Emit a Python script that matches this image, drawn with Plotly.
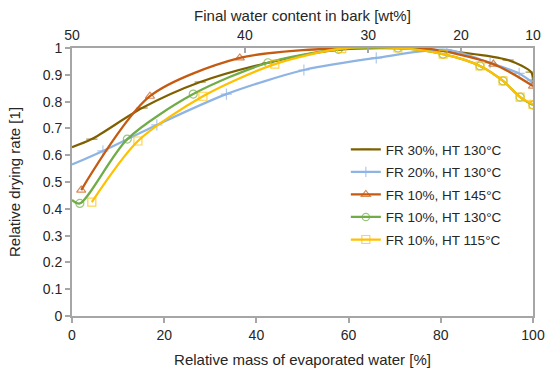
import plotly.graph_objects as go

# Bottom axis: relative mass of evaporated water [%]
fr30_ht130_x = [0, 4.3, 15.2, 27.8, 42.5, 57.5, 76, 94.6, 99.6, 100]
fr30_ht130_y = [0.63, 0.66, 0.776, 0.873, 0.945, 0.993, 0.996, 0.955, 0.91, 0.88]

fr20_ht130_x = [0, 6.7, 18.4, 33.5, 50.3, 66, 81.3, 90.7, 97, 100]
fr20_ht130_y = [0.565, 0.616, 0.713, 0.828, 0.918, 0.963, 0.993, 0.944, 0.905, 0.87]

fr10_ht145_x = [2, 16.9, 36.4, 56, 76, 91.4, 100]
fr10_ht145_y = [0.47, 0.82, 0.963, 0.998, 1.0, 0.94, 0.858]

fr10_ht130_x = [0, 1.7, 12, 26.3, 42.5, 57.8, 70.7, 80.5, 88.5, 93.5, 97.2, 100]
fr10_ht130_y = [0.433, 0.42, 0.66, 0.828, 0.945, 0.995, 1.0, 0.977, 0.933, 0.877, 0.817, 0.787]

fr10_ht115_x = [4.3, 14.3, 28.4, 44, 58.5, 70.7, 80.5, 88.5, 93.5, 97.2, 100]
fr10_ht115_y = [0.425, 0.653, 0.82, 0.94, 0.998, 1.0, 0.977, 0.933, 0.877, 0.817, 0.79]

series_names = ["FR 30%, HT 130°C", "FR 20%, HT 130°C", "FR 10%, HT 145°C",
                "FR 10%, HT 130°C", "FR 10%, HT 115°C"]

# Top axis: final water content in bark [wt%]
top_tick_labels = [50, 40, 30, 20, 10]
w0, wend = 50.0, 10.0


def evaporated_pct(w):
    water = w / (100 - w)
    water0 = w0 / (100 - w0)
    water_end = wend / (100 - wend)
    return (water0 - water) / (water0 - water_end) * 100


top_tick_pos = [evaporated_pct(w) for w in top_tick_labels]

colors = ["#7F6000", "#8EB4E3", "#C55A11", "#70AD47", "#FFC000"]
symbols = ["line-ew", "cross-thin", "triangle-up-open", "circle-open", "square-open"]
xs = [fr30_ht130_x, fr20_ht130_x, fr10_ht145_x, fr10_ht130_x, fr10_ht115_x]
ys = [fr30_ht130_y, fr20_ht130_y, fr10_ht145_y, fr10_ht130_y, fr10_ht115_y]

fig = go.Figure()
for i, (name, x, y, c, s) in enumerate(zip(series_names, xs, ys, colors, symbols)):
    # no marker drawn where a curve begins on the y axis
    sizes = [0 if xv == 0 else 8 for xv in x]
    fig.add_trace(go.Scatter(
        x=x, y=y, name=name, mode="lines+markers", legendgroup=f"g{i}",
        line=dict(color=c, width=2.25, shape="spline", smoothing=0.8),
        marker=dict(symbol=s, size=sizes, color=c, line=dict(color=c, width=1.2)),
    ))

axis_col = "#A6A6A6"
font_fam = "Liberation Sans, Arial, sans-serif"

common = dict(showgrid=False, zeroline=False, showline=True, linecolor=axis_col,
              linewidth=2, tickcolor=axis_col, ticklen=5,
              tickwidth=1.5, tickfont=dict(size=14), automargin=False)

fig.update_layout(
    width=550, height=370,
    margin=dict(l=72, r=17, t=48, b=54),
    paper_bgcolor="white", plot_bgcolor="white",
    font=dict(family=font_fam, size=14, color="#262626"),
    showlegend=True,
    legend=dict(x=0.594, y=0.679, xanchor="left", yanchor="top",
                bgcolor="rgba(255,255,255,0)", font=dict(size=13.5),
                itemwidth=30, tracegroupgap=2),
    xaxis=dict(range=[0, 100], dtick=20, ticks="outside",
               title=dict(text="Relative mass of evaporated water [%]",
                          font=dict(size=15), standoff=13), **common),
    xaxis2=dict(range=[0, 100], overlaying="x", side="top", anchor="y",
                ticks="inside",
                tickvals=top_tick_pos, ticktext=[str(v) for v in top_tick_labels],
                title=dict(text="Final water content in bark [wt%]",
                           font=dict(size=15), standoff=2), **common),
    yaxis=dict(range=[0, 1], dtick=0.1, mirror=True, ticks="outside",
               title=dict(text="Relative drying rate [1]", font=dict(size=15),
                          standoff=18), **common),
)

# helper trace so top axis is rendered
fig.add_trace(go.Scatter(x=top_tick_pos, y=[None] * len(top_tick_pos), xaxis="x2",
                         showlegend=False, hoverinfo="skip", mode="markers"))

fig.write_html("out.html", config={"displayModeBar": False},
               post_script="document.body.style.margin='0';"
                           "document.body.style.overflow='hidden';")
